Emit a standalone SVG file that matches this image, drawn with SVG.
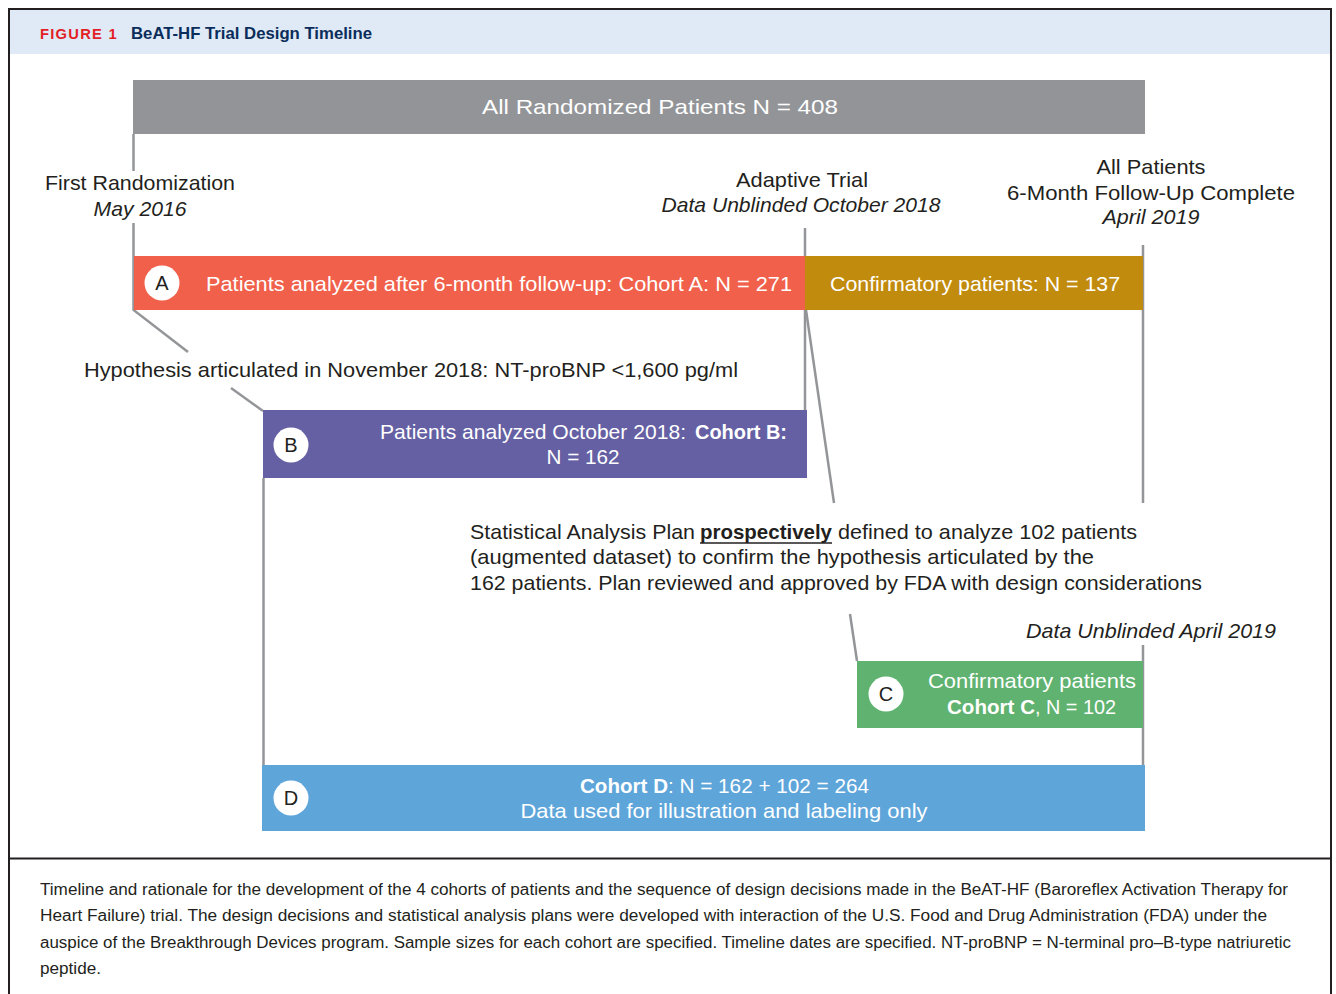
<svg xmlns="http://www.w3.org/2000/svg" width="1336" height="994" viewBox="0 0 1336 994">
<style>
.t{font-family:"Liberation Sans",Arial,sans-serif;fill:#231f20;font-size:21px}
.w{font-family:"Liberation Sans",Arial,sans-serif;fill:#ffffff;font-size:21px}
.i{font-style:italic}
.b{font-weight:bold}
.c{text-anchor:middle}
.cap{font-family:"Liberation Sans",Arial,sans-serif;fill:#231f20;font-size:16px}
.ln{stroke:#939598;stroke-width:2.5;fill:none}
.cir{fill:#ffffff}
.lt{font-family:"Liberation Sans",Arial,sans-serif;fill:#231f20;font-size:20px;text-anchor:middle}
</style>
<rect x="0" y="0" width="1336" height="994" fill="#ffffff"/>
<g id="frame">
<rect x="10" y="10" width="1320" height="44" fill="#dfeaf6"/>
<path d="M9,1000 V9 H1331 V1000" fill="none" stroke="#231f20" stroke-width="2"/>
<line x1="9" y1="858.5" x2="1331" y2="858.5" stroke="#231f20" stroke-width="2"/>
<text x="40" y="39" font-family="Liberation Sans,Arial,sans-serif" font-weight="bold" font-size="14" fill="#e31f26" letter-spacing="1.2" textLength="78" lengthAdjust="spacingAndGlyphs">FIGURE 1</text>
<text x="131" y="39" font-family="Liberation Sans,Arial,sans-serif" font-weight="bold" font-size="16.5" fill="#0b2d5b" textLength="241" lengthAdjust="spacingAndGlyphs">BeAT-HF Trial Design Timeline</text>
</g>
<g id="connectors">
<line class="ln" x1="133.5" y1="134" x2="133.5" y2="171"/>
<polyline class="ln" points="133.5,223 133.5,310 188,352"/>
<line class="ln" x1="231" y1="388" x2="263" y2="411"/>
<line class="ln" x1="263.5" y1="478" x2="263.5" y2="766"/>
<line class="ln" x1="805" y1="228" x2="805" y2="411"/>
<line class="ln" x1="806" y1="310" x2="834" y2="503"/>
<line class="ln" x1="850" y1="614" x2="857" y2="661"/>
<line class="ln" x1="1143" y1="245" x2="1143" y2="503"/>
<line class="ln" x1="1143" y1="645" x2="1143" y2="766"/>
</g>
<g id="all">
<rect x="133" y="80" width="1012" height="54" fill="#929497"/>
<text class="w c" x="660" y="114" font-size="24" textLength="356" lengthAdjust="spacingAndGlyphs">All Randomized Patients N = 408</text>
</g>
<g id="cohortA">
<rect x="134" y="256" width="671" height="54" fill="#f0604a"/>
<circle class="cir" cx="162" cy="283" r="17.5"/>
<text class="lt" x="162" y="290">A</text>
<text class="w" x="206" y="291" textLength="586" lengthAdjust="spacingAndGlyphs">Patients analyzed after 6-month follow-up: Cohort A: N = 271</text>
</g>
<g id="confirm137">
<rect x="805" y="256" width="338" height="54" fill="#c18b0e"/>
<text class="w c" x="975" y="291" textLength="290" lengthAdjust="spacingAndGlyphs">Confirmatory patients: N = 137</text>
</g>
<g id="cohortB">
<rect x="263" y="410" width="544" height="68" fill="#6460a3"/>
<circle class="cir" cx="291" cy="445" r="17.5"/>
<text class="lt" x="291" y="452">B</text>
<text class="w" x="380" y="439" textLength="306" lengthAdjust="spacingAndGlyphs">Patients analyzed October 2018:</text>
<text class="w b" x="695" y="439" textLength="92" lengthAdjust="spacingAndGlyphs">Cohort B:</text>
<text class="w c" x="583" y="464" textLength="73" lengthAdjust="spacingAndGlyphs">N = 162</text>
</g>
<g id="cohortC">
<rect x="857" y="661" width="286" height="67" fill="#5fb26f"/>
<circle class="cir" cx="886" cy="694" r="17.5"/>
<text class="lt" x="886" y="701">C</text>
<text class="w c" x="1032" y="688" textLength="208" lengthAdjust="spacingAndGlyphs">Confirmatory patients</text>
<text class="w b" x="947" y="714" textLength="88" lengthAdjust="spacingAndGlyphs">Cohort C</text>
<text class="w" x="1035" y="714" textLength="81" lengthAdjust="spacingAndGlyphs">, N = 102</text>
</g>
<g id="cohortD">
<rect x="262" y="765" width="883" height="66" fill="#5ea5da"/>
<circle class="cir" cx="291" cy="798" r="17.5"/>
<text class="lt" x="291" y="805">D</text>
<text class="w b" x="580" y="793" textLength="88" lengthAdjust="spacingAndGlyphs">Cohort D</text>
<text class="w" x="668" y="793" textLength="201" lengthAdjust="spacingAndGlyphs">: N = 162 + 102 = 264</text>
<text class="w c" x="724" y="818" textLength="407" lengthAdjust="spacingAndGlyphs">Data used for illustration and labeling only</text>
</g>
<g id="firstRand">
<text class="t c" x="140" y="190" textLength="190" lengthAdjust="spacingAndGlyphs">First Randomization</text>
<text class="t c i" x="140" y="216" textLength="93" lengthAdjust="spacingAndGlyphs">May 2016</text>
</g>
<g id="adaptive">
<text class="t c" x="802" y="187" textLength="132" lengthAdjust="spacingAndGlyphs">Adaptive Trial</text>
<text class="t c i" x="801" y="212" textLength="279" lengthAdjust="spacingAndGlyphs">Data Unblinded October 2018</text>
</g>
<g id="allPatients">
<text class="t c" x="1151" y="174" textLength="109" lengthAdjust="spacingAndGlyphs">All Patients</text>
<text class="t c" x="1151" y="200" textLength="288" lengthAdjust="spacingAndGlyphs">6-Month Follow-Up Complete</text>
<text class="t c i" x="1151" y="224" textLength="97" lengthAdjust="spacingAndGlyphs">April 2019</text>
</g>
<g id="hypothesis">
<text class="t" x="84" y="377" textLength="654" lengthAdjust="spacingAndGlyphs">Hypothesis articulated in November 2018: NT-proBNP &lt;1,600 pg/ml</text>
</g>
<g id="sap">
<text class="t" x="470" y="539" textLength="225" lengthAdjust="spacingAndGlyphs">Statistical Analysis Plan</text>
<text class="t b" x="700" y="539" textLength="132" lengthAdjust="spacingAndGlyphs">prospectively</text>
<line x1="700" y1="543" x2="832" y2="543" stroke="#231f20" stroke-width="1.5"/>
<text class="t" x="838" y="539" textLength="299" lengthAdjust="spacingAndGlyphs">defined to analyze 102 patients</text>
<text class="t" x="470" y="564" textLength="624" lengthAdjust="spacingAndGlyphs">(augmented dataset) to confirm the hypothesis articulated by the</text>
<text class="t" x="470" y="590" textLength="732" lengthAdjust="spacingAndGlyphs">162 patients. Plan reviewed and approved by FDA with design considerations</text>
</g>
<g id="unblindedApril">
<text class="t i" x="1026" y="638" textLength="250" lengthAdjust="spacingAndGlyphs">Data Unblinded April 2019</text>
</g>
<g id="caption">
<text class="cap" x="40" y="895" textLength="1248" lengthAdjust="spacingAndGlyphs">Timeline and rationale for the development of the 4 cohorts of patients and the sequence of design decisions made in the BeAT-HF (Baroreflex Activation Therapy for</text>
<text class="cap" x="40" y="921" textLength="1227" lengthAdjust="spacingAndGlyphs">Heart Failure) trial. The design decisions and statistical analysis plans were developed with interaction of the U.S. Food and Drug Administration (FDA) under the</text>
<text class="cap" x="40" y="948" textLength="1251" lengthAdjust="spacingAndGlyphs">auspice of the Breakthrough Devices program. Sample sizes for each cohort are specified. Timeline dates are specified. NT-proBNP = N-terminal pro–B-type natriuretic</text>
<text class="cap" x="40" y="974" textLength="61" lengthAdjust="spacingAndGlyphs">peptide.</text>
</g>
</svg>
